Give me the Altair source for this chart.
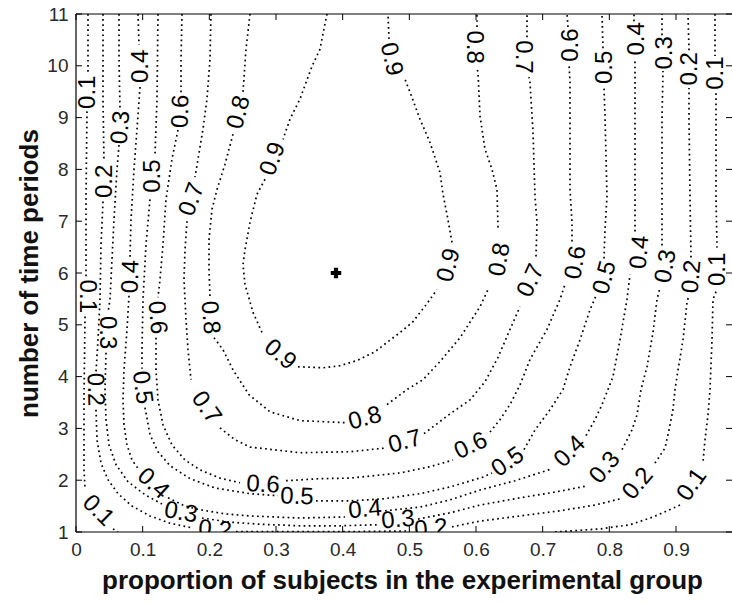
import altair as alt
import pandas as pd

# ---- axis ticks ----
X_TICKS = [0, 0.1, 0.2, 0.3, 0.4, 0.5, 0.6, 0.7, 0.8, 0.9]
Y_TICKS = [1, 2, 3, 4, 5, 6, 7, 8, 9, 10, 11]

# ---- contour levels (each level: list of segments between inline labels) ----
LEVELS = ["0.1", "0.2", "0.3", "0.4", "0.5", "0.6", "0.7", "0.8", "0.9"]

C01 = [
    [(0.018, 11.0), (0.018, 9.84)],
    [(0.0165, 9.12), (0.015, 7.42), (0.015, 5.91)],
    [(0.0135, 5.16), (0.012, 3.55), (0.012, 2.20), (0.0135, 1.85)],
    [(0.0555, 1.06), (0.063, 1.0)],
    [(0.9585, 11.0), (0.9585, 10.19)],
    [(0.96, 9.47), (0.96, 7.48), (0.9615, 6.49)],
    [(0.96, 5.64), (0.9555, 5.49), (0.954, 4.71), (0.951, 3.75), (0.948, 3.26), (0.9435, 2.78), (0.9405, 2.35)],
    [(0.906, 1.52), (0.8835, 1.39), (0.8655, 1.29), (0.831, 1.14), (0.786, 1.06), (0.741, 1.02), (0.717, 1.0)],
]
C02 = [
    [(0.0405, 11.0), (0.0405, 9.36), (0.042, 8.16)],
    [(0.0405, 7.38), (0.0375, 6.55), (0.036, 5.49), (0.033, 4.71), (0.030, 4.09)],
    [(0.030, 3.36), (0.0315, 2.78), (0.0375, 2.33), (0.048, 2.01), (0.063, 1.74), (0.084, 1.50), (0.111, 1.31), (0.141, 1.17), (0.174, 1.08)],
    [(0.24, 1.01), (0.336, 1.01), (0.426, 1.01), (0.501, 1.02)],
    [(0.564, 1.10), (0.606, 1.21), (0.666, 1.31), (0.726, 1.41), (0.7785, 1.52), (0.816, 1.64)],
    [(0.8685, 2.33), (0.8835, 2.62), (0.8895, 2.97), (0.8955, 3.36), (0.8985, 3.75), (0.9015, 4.00), (0.9105, 4.71), (0.9165, 5.43), (0.9195, 5.58)],
    [(0.9225, 6.30), (0.921, 7.48), (0.9195, 8.97), (0.9195, 9.57)],
    [(0.9195, 10.30), (0.918, 11.0)],
]
C03 = [
    [(0.0645, 11.0), (0.0645, 10.13), (0.066, 9.16)],
    [(0.0645, 8.47), (0.0615, 8.00), (0.057, 7.03), (0.054, 6.26), (0.051, 5.49), (0.048, 5.24)],
    [(0.045, 4.46), (0.0435, 3.75), (0.045, 3.17), (0.0495, 2.68), (0.06, 2.30), (0.078, 1.97), (0.1035, 1.72), (0.129, 1.54)],
    [(0.189, 1.27), (0.231, 1.19), (0.276, 1.15), (0.336, 1.12), (0.396, 1.12), (0.453, 1.14)],
    [(0.513, 1.25), (0.561, 1.37), (0.606, 1.52), (0.666, 1.66), (0.7185, 1.77), (0.7665, 1.89)],
    [(0.819, 2.59), (0.834, 2.97), (0.8415, 3.26), (0.8475, 3.75), (0.8565, 4.19), (0.8655, 4.85), (0.8715, 5.49), (0.876, 5.72)],
    [(0.879, 6.53), (0.879, 7.48), (0.879, 8.97), (0.8805, 9.90)],
    [(0.879, 10.59), (0.879, 11.0)],
]
C04 = [
    [(0.093, 11.0), (0.0945, 10.40)],
    [(0.096, 9.59), (0.0915, 8.78), (0.087, 8.00), (0.0825, 7.03), (0.081, 6.30)],
    [(0.0795, 5.56), (0.0765, 4.91), (0.072, 4.13), (0.0705, 3.55), (0.072, 3.07), (0.0765, 2.68), (0.084, 2.39), (0.0945, 2.20)],
    [(0.138, 1.66), (0.1635, 1.50), (0.186, 1.43), (0.2235, 1.35), (0.261, 1.31), (0.336, 1.27), (0.4035, 1.29)],
    [(0.4635, 1.41), (0.516, 1.48), (0.561, 1.62), (0.606, 1.81), (0.6585, 1.99), (0.714, 2.22)],
    [(0.765, 2.86), (0.7785, 3.17), (0.789, 3.46), (0.798, 3.75), (0.8055, 4.00), (0.816, 4.71), (0.8265, 5.49), (0.831, 5.97)],
    [(0.8385, 6.80), (0.8385, 7.61), (0.8385, 8.97), (0.8385, 10.13)],
    [(0.837, 10.86), (0.837, 11.0)],
]
C05 = [
    [(0.123, 11.0), (0.1215, 9.36), (0.1185, 8.29)],
    [(0.111, 7.42), (0.105, 6.55), (0.1005, 5.49), (0.099, 4.52), (0.099, 4.15)],
    [(0.1035, 3.40), (0.111, 2.88), (0.123, 2.55), (0.141, 2.28), (0.171, 2.03), (0.2085, 1.85), (0.261, 1.74), (0.303, 1.70)],
    [(0.36, 1.60), (0.411, 1.60), (0.4605, 1.64), (0.516, 1.74), (0.561, 1.87), (0.6105, 2.06), (0.624, 2.14)],
    [(0.672, 2.59), (0.6885, 2.97), (0.711, 3.36), (0.7305, 3.75), (0.741, 4.19), (0.756, 4.71), (0.771, 5.29), (0.78, 5.56)],
    [(0.792, 6.28), (0.7935, 6.84), (0.7965, 7.48), (0.7935, 9.03), (0.792, 9.59)],
    [(0.7905, 10.34), (0.789, 11.0)],
]
C06 = [
    [(0.159, 11.0), (0.1575, 10.13), (0.1575, 9.49)],
    [(0.153, 8.76), (0.144, 8.20), (0.135, 7.42), (0.1305, 6.55), (0.126, 5.87), (0.123, 5.53)],
    [(0.12, 4.75), (0.12, 4.13), (0.123, 3.55), (0.1305, 3.07), (0.144, 2.68), (0.1635, 2.39), (0.186, 2.20), (0.216, 2.04), (0.246, 1.95)],
    [(0.315, 1.99), (0.366, 2.03), (0.411, 2.04), (0.486, 2.14), (0.531, 2.26), (0.5655, 2.39)],
    [(0.621, 2.93), (0.636, 3.17), (0.651, 3.46), (0.666, 3.84), (0.681, 4.33), (0.7065, 4.91), (0.726, 5.49), (0.7335, 5.78)],
    [(0.744, 6.61), (0.744, 6.98), (0.741, 7.61), (0.741, 9.68), (0.7395, 10.05)],
    [(0.738, 10.75), (0.7365, 11.0)],
]
C07 = [
    [(0.2025, 11.0), (0.201, 10.13), (0.1965, 9.36), (0.1905, 8.78), (0.183, 8.20), (0.1785, 7.85)],
    [(0.1665, 7.00), (0.1635, 6.45), (0.162, 5.87), (0.165, 5.10), (0.168, 4.52), (0.1725, 3.94)],
    [(0.216, 3.01), (0.2385, 2.78), (0.261, 2.64), (0.336, 2.53), (0.411, 2.55), (0.4635, 2.62)],
    [(0.522, 2.90), (0.561, 3.28), (0.591, 3.55), (0.6135, 3.90), (0.633, 4.37), (0.651, 4.91), (0.666, 5.35)],
    [(0.69, 6.32), (0.6915, 6.98), (0.6885, 7.48), (0.6855, 8.72), (0.681, 9.68), (0.6795, 9.78)],
    [(0.6765, 10.55), (0.6765, 11.0)],
]
C08 = [
    [(0.261, 11.0), (0.255, 10.32), (0.2505, 9.49)],
    [(0.2355, 8.68), (0.2235, 8.10), (0.2115, 7.61), (0.204, 7.23), (0.1995, 6.65), (0.1995, 6.07), (0.201, 5.53)],
    [(0.207, 4.75), (0.2205, 4.52), (0.2355, 4.13), (0.2595, 3.65), (0.291, 3.32), (0.336, 3.15), (0.4035, 3.11)],
    [(0.4665, 3.46), (0.4965, 3.75), (0.5205, 3.94), (0.546, 4.29), (0.576, 4.75), (0.606, 5.35), (0.618, 5.68)],
    [(0.633, 6.88), (0.6315, 7.61), (0.624, 8.00), (0.6135, 8.39), (0.606, 9.03), (0.603, 9.88), (0.6015, 9.94)],
    [(0.6015, 10.75), (0.6015, 11.0)],
]
C09 = [
    [(0.3765, 11.0), (0.366, 10.32), (0.354, 9.99), (0.336, 9.36), (0.321, 8.97), (0.3105, 8.58)],
    [(0.2835, 7.81), (0.2715, 7.52), (0.261, 6.98), (0.2535, 6.45), (0.2505, 6.16), (0.2535, 5.78), (0.2655, 5.24), (0.279, 4.85)],
    [(0.333, 4.19), (0.3705, 4.17), (0.396, 4.21), (0.4215, 4.31), (0.4485, 4.48), (0.4665, 4.66), (0.486, 4.85), (0.5055, 5.06), (0.5265, 5.41), (0.5415, 5.68)],
    [(0.564, 6.59), (0.5565, 7.13), (0.5505, 7.52), (0.546, 7.94), (0.531, 8.52), (0.516, 8.97), (0.501, 9.49), (0.4935, 9.74)],
    [(0.4695, 10.52), (0.468, 11.0)],
]

# ---- inline contour labels: (x, y, angle) ----
L01 = [(0.018, 9.49, 270), (0.0165, 5.55, 90), (0.033, 1.41, 45), (0.924, 1.91, 305), (0.963, 6.07, 270), (0.96, 9.86, 270)]
L02 = [(0.0435, 7.77, 270), (0.0285, 3.75, 88), (0.2085, 1.04, 5), (0.5325, 1.06, 355), (0.843, 1.93, 310), (0.924, 5.93, 275), (0.921, 9.94, 270)]
L03 = [(0.0675, 8.81, 275), (0.0465, 4.85, 90), (0.1575, 1.37, 10), (0.483, 1.23, 355), (0.7935, 2.24, 310), (0.885, 6.13, 280), (0.8835, 10.25, 270)]
L04 = [(0.0975, 9.99, 270), (0.0825, 5.93, 272), (0.1155, 1.93, 42), (0.4335, 1.43, 355), (0.741, 2.55, 315), (0.846, 6.40, 275), (0.8415, 10.52, 270)]
L05 = [(0.1155, 7.87, 270), (0.099, 3.79, 82), (0.3315, 1.68, 2), (0.648, 2.35, 325), (0.7935, 5.91, 285), (0.7935, 9.97, 270)]
L06 = [(0.1575, 9.12, 272), (0.1215, 5.14, 85), (0.2805, 1.91, 3), (0.5925, 2.66, 335), (0.75, 6.20, 280), (0.7425, 10.40, 270)]
L07 = [(0.174, 7.42, 290), (0.195, 3.40, 55), (0.4935, 2.74, 345), (0.6825, 5.85, 295), (0.6705, 10.17, 90)]
L08 = [(0.2445, 9.10, 285), (0.201, 5.14, 85), (0.4335, 3.19, 345), (0.636, 6.26, 280), (0.597, 10.36, 90)]
L09 = [(0.2955, 8.20, 290), (0.306, 4.42, 40), (0.5595, 6.15, 285), (0.4725, 10.13, 77)]

# ---- optimum marker ----
STAR_X = [0.39]
STAR_Y = [6.0]

# ---- build tables ----
line_rows = []
lab_rows = []
for lev, segs, labs in zip(LEVELS, [C01, C02, C03, C04, C05, C06, C07, C08, C09],
                           [L01, L02, L03, L04, L05, L06, L07, L08, L09]):
    for si, seg in enumerate(segs):
        for pi, (x, y) in enumerate(seg):
            line_rows.append({"level": lev, "seg": f"{lev}-{si}", "i": pi, "x": x, "y": y})
    for (x, y, a) in labs:
        lab_rows.append({"text": lev, "x": x, "y": y, "ang": a})

lines_df = pd.DataFrame(line_rows)
labels_df = pd.DataFrame(lab_rows)
star_df = pd.DataFrame({"x": STAR_X, "y": STAR_Y})
xt_df = pd.DataFrame({"x": X_TICKS})
yt_df = pd.DataFrame({"y": Y_TICKS})

W, H = 656, 518
FONT = "Liberation Sans"
xs = alt.Scale(domain=[0, 0.984], nice=False, zero=False)
ys = alt.Scale(domain=[1, 11], nice=False, zero=False)

x_axis = alt.Axis(values=X_TICKS, format="~g", grid=False, ticks=False, domain=False,
                  labelFont=FONT, labelFontSize=19, labelColor="#2a2a2a", labelPadding=8,
                  labelFlush=False, labelOverlap=False,
                  title="proportion of subjects in the experimental group",
                  titleFont=FONT, titleFontSize=26, titleFontWeight="bold", titleColor="#111",
                  titleX=326, titleY=56, titleBaseline="alphabetic", titleAlign="center")
y_axis = alt.Axis(values=Y_TICKS, format="d", grid=False, ticks=False, domain=False,
                  labelFont=FONT, labelFontSize=19, labelColor="#2a2a2a", labelPadding=8,
                  labelFlush=False, labelOverlap=False,
                  title="number of time periods",
                  titleFont=FONT, titleFontSize=26, titleFontWeight="bold", titleColor="#111",
                  titleX=-39, titleY=H / 2, titleAngle=270, titleBaseline="alphabetic", titleAlign="center")

X = alt.X("x:Q", scale=xs, axis=x_axis)
Y = alt.Y("y:Q", scale=ys, axis=y_axis)

contours = alt.Chart(lines_df).mark_line(
    color="black", strokeWidth=1.7, strokeDash=[1.7, 3.4], clip=True
).encode(x=X, y=Y, detail="seg:N", order="i:Q")

labels = alt.Chart(labels_df).mark_text(
    font=FONT, fontSize=24, color="black", align="center", baseline="middle", clip=True
).encode(x=X, y=Y, text="text:N", angle=alt.Angle("ang:Q", scale=None))

star = alt.Chart(star_df).mark_point(shape="cross", filled=True, color="black", size=110, opacity=1).encode(
    x=X, y=Y)

tick_bottom = alt.Chart(xt_df).mark_rule(color="black").encode(x=X, y=alt.value(H), y2=alt.value(H - 6))
tick_top = alt.Chart(xt_df).mark_rule(color="black").encode(x=X, y=alt.value(0), y2=alt.value(6))
tick_left = alt.Chart(yt_df).mark_rule(color="black").encode(y=Y, x=alt.value(0), x2=alt.value(6))
tick_right = alt.Chart(yt_df).mark_rule(color="black").encode(y=Y, x=alt.value(W - 6), x2=alt.value(W))

# plot frame: left, top and bottom edges (the right edge lies just outside the picture)
frame_left = alt.Chart(star_df).mark_rule(color="black", strokeWidth=1.2).encode(
    x=alt.value(0), y=alt.value(0), y2=alt.value(H))
frame_top = alt.Chart(star_df).mark_rule(color="black", strokeWidth=1.2).encode(
    x=alt.value(0), x2=alt.value(W), y=alt.value(0))
frame_bottom = alt.Chart(star_df).mark_rule(color="black", strokeWidth=1.2).encode(
    x=alt.value(0), x2=alt.value(W), y=alt.value(H))

chart = alt.layer(contours, labels, star, tick_bottom, tick_top, tick_left, tick_right,
                  frame_left, frame_top, frame_bottom).properties(
    width=W, height=H,
    autosize=alt.AutoSizeParams(type="none"),
    padding={"left": 76, "top": 14, "right": 0, "bottom": 71},
    background="white",
).configure_view(stroke=None)

chart.save("out.html", embed_options={"renderer": "svg", "actions": False})
